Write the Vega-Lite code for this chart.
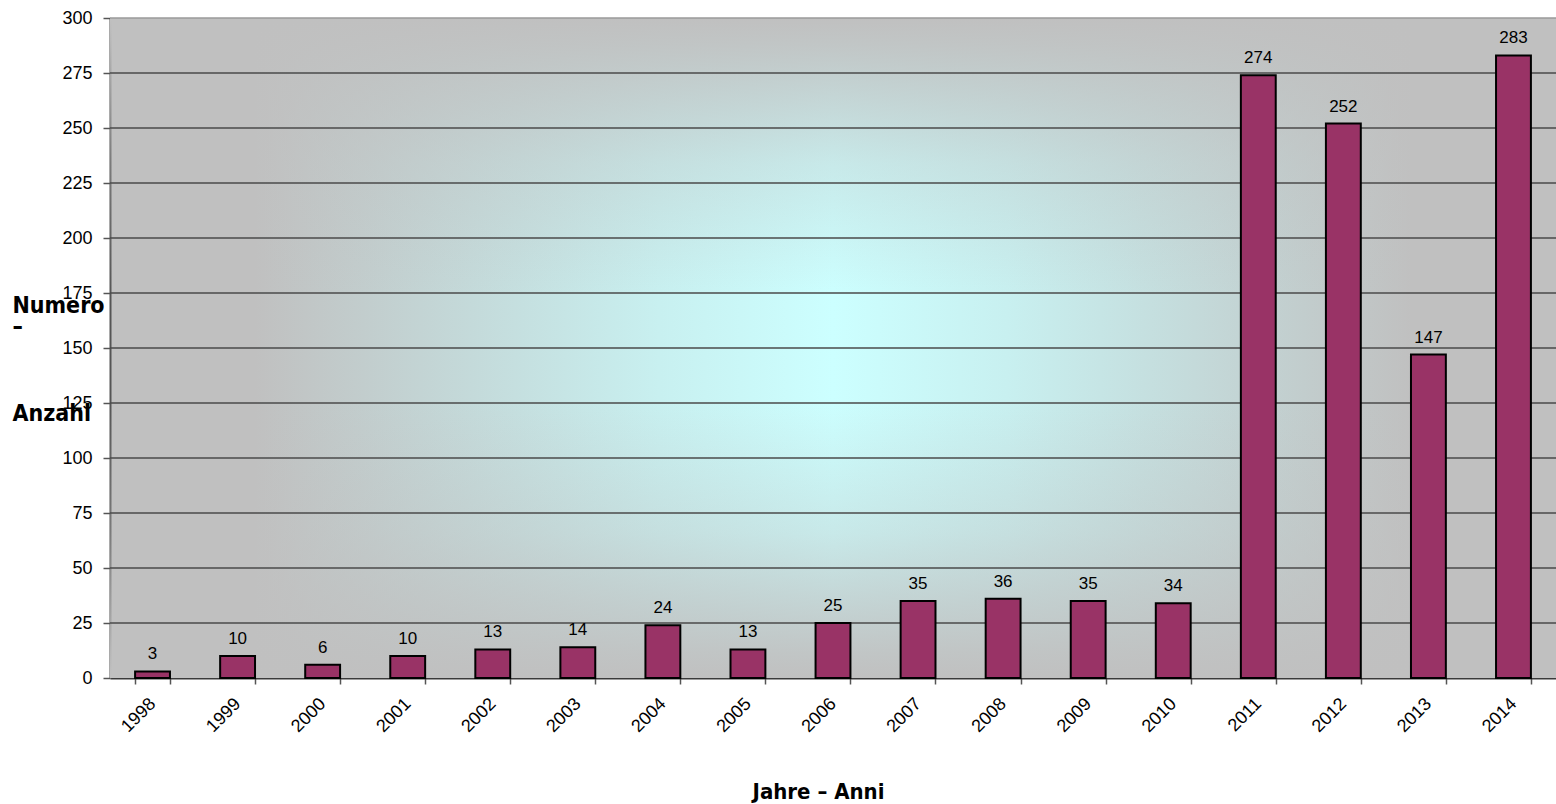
{
  "$schema": "https://vega.github.io/schema/vega-lite/v6.json",
  "width": 1446,
  "height": 660,
  "autosize": {"type": "none"},
  "padding": {"left": 110, "top": 18, "right": 0, "bottom": 126},
  "background": "white",
  "datasets": {
    "counts": [
      {"year": "1998", "n": 3},
      {"year": "1999", "n": 10},
      {"year": "2000", "n": 6},
      {"year": "2001", "n": 10},
      {"year": "2002", "n": 13},
      {"year": "2003", "n": 14},
      {"year": "2004", "n": 24},
      {"year": "2005", "n": 13},
      {"year": "2006", "n": 25},
      {"year": "2007", "n": 35},
      {"year": "2008", "n": 36},
      {"year": "2009", "n": 35},
      {"year": "2010", "n": 34},
      {"year": "2011", "n": 274},
      {"year": "2012", "n": 252},
      {"year": "2013", "n": 147},
      {"year": "2014", "n": 283}
    ],
    "grid": [
      {"g": 25}, {"g": 50}, {"g": 75}, {"g": 100}, {"g": 125}, {"g": 150},
      {"g": 175}, {"g": 200}, {"g": 225}, {"g": 250}, {"g": 275}, {"g": 300}
    ],
    "bg": [{"k": 1}]
  },
  "layer": [
    {
      "data": {"name": "bg"},
      "mark": {
        "type": "rect",
        "fill": {
          "gradient": "linear",
          "x1": 0, "y1": 0, "x2": 0, "y2": 1,
          "stops": [
            {"offset": 0, "color": "rgba(192,192,192,1)"},
            {"offset": 0.04, "color": "rgba(192,192,192,0.9)"},
            {"offset": 0.22, "color": "rgba(192,192,192,0.35)"},
            {"offset": 0.42, "color": "rgba(192,192,192,0)"},
            {"offset": 0.58, "color": "rgba(192,192,192,0)"},
            {"offset": 0.78, "color": "rgba(192,192,192,0.35)"},
            {"offset": 0.96, "color": "rgba(192,192,192,0.9)"},
            {"offset": 1, "color": "rgba(192,192,192,1)"}
          ]
        }
      },
      "encoding": {
        "x": {"value": 0},
        "x2": {"value": "width"},
        "y": {"value": 0},
        "y2": {"value": "height"}
      }
    },
    {
      "data": {"name": "grid"},
      "mark": {"type": "rule", "strokeWidth": 1.3},
      "encoding": {
        "y": {
          "field": "g",
          "type": "quantitative",
          "scale": {"domain": [0, 300], "nice": false},
          "axis": {
            "title": ["Numero", "–", "\u2800", "\u2800\u2800", "\u2800\u2800\u2800", "Anzahl"],
            "values": [0, 25, 50, 75, 100, 125, 150, 175, 200, 225, 250, 275, 300]
          }
        },
        "x": {"value": 0},
        "x2": {"value": "width"},
        "stroke": {
          "condition": {"test": "datum.g == 300", "value": "#9a9a9a"},
          "value": "#4a4a4a"
        }
      }
    },
    {
      "data": {"name": "counts"},
      "encoding": {
        "x": {
          "field": "year",
          "type": "nominal",
          "sort": null,
          "scale": {"paddingInner": 0.59, "paddingOuter": 0.295},
          "axis": {"title": "Jahre – Anni"}
        },
        "y": {
          "field": "n",
          "type": "quantitative",
          "scale": {"domain": [0, 300], "nice": false},
          "axis": {
            "title": ["Numero", "–", "\u2800", "\u2800\u2800", "\u2800\u2800\u2800", "Anzahl"],
            "values": [0, 25, 50, 75, 100, 125, 150, 175, 200, 225, 250, 275, 300]
          }
        }
      },
      "layer": [
        {
          "mark": {"type": "bar", "color": "#993366", "stroke": "black", "strokeWidth": 2}
        },
        {
          "mark": {
            "type": "text",
            "baseline": "alphabetic",
            "dy": -12,
            "font": "Liberation Sans",
            "fontSize": 17,
            "color": "black"
          },
          "encoding": {"text": {"field": "n", "type": "quantitative"}}
        }
      ]
    }
  ],
  "config": {
    "view": {
      "stroke": null,
      "fill": {
        "gradient": "linear",
        "x1": 0, "y1": 0, "x2": 1, "y2": 0,
        "stops": [
          {"offset": 0, "color": "#c0c0c0"},
          {"offset": 0.1, "color": "#c0c0c0"},
          {"offset": 0.25, "color": "#c4dada"},
          {"offset": 0.38, "color": "#c8f0f0"},
          {"offset": 0.5, "color": "#ccffff"},
          {"offset": 0.62, "color": "#c8f0f0"},
          {"offset": 0.75, "color": "#c4dada"},
          {"offset": 0.9, "color": "#c0c0c0"},
          {"offset": 1, "color": "#c0c0c0"}
        ]
      }
    },
    "axisX": {
      "titleFont": "DejaVu Sans Condensed, DejaVu Sans",
      "titleFontSize": 22,
      "titleFontWeight": "bold",
      "titleColor": "black",
      "titleX": 708,
      "titleY": 120,
      "titleAlign": "center",
      "titleBaseline": "alphabetic",
      "labelAngle": -45,
      "labelAlign": "right",
      "labelBaseline": "middle",
      "labelFont": "Liberation Sans",
      "labelFontSize": 18,
      "labelColor": "black",
      "labelPadding": 17,
      "tickBand": "extent",
      "tickColor": "#555",
      "tickSize": 6,
      "tickWidth": 1.5,
      "domainColor": "#3a3a3a",
      "domainWidth": 2,
      "grid": false
    },
    "axisY": {
      "grid": false,
      "titleFont": "DejaVu Sans Condensed, DejaVu Sans",
      "titleFontSize": 23,
      "titleFontWeight": "bold",
      "titleColor": "black",
      "titleAngle": 0,
      "titleAlign": "left",
      "titleBaseline": "alphabetic",
      "titleX": -98,
      "titleY": 294,
      "titleLineHeight": 21.6,
      "labelFont": "Liberation Sans",
      "labelFontSize": 18,
      "labelColor": "black",
      "labelPadding": 11,
      "tickColor": "#555",
      "tickSize": 7,
      "tickWidth": 1.5,
      "domainColor": "#555",
      "domainWidth": 2
    }
  }
}
